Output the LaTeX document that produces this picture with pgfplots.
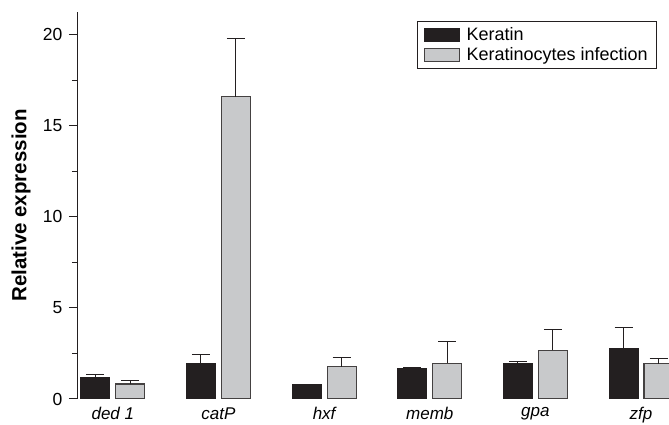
\documentclass[border=0pt]{standalone}
\usepackage{pgfplots}
\pgfplotsset{compat=1.18}
\usepackage{pgfplotstable}
\usepackage{fontspec}
\setmainfont{Liberation Sans}
\definecolor{kblack}{HTML}{231F20}
\definecolor{kgrey}{HTML}{C8C9CB}
\pgfplotstableread{
x  y     e
0  1.17  0.18
1  1.95  0.50
2  0.77  0.02
3  1.70  0.03
4  1.95  0.10
5  2.80  1.15
}\keratin
\pgfplotstableread{
x  y     e
0  0.82  0.18
1  16.60 3.20
2  1.77  0.53
3  1.97  1.21
4  2.68  1.12
5  1.95  0.25
}\infection
\begin{document}
\begin{tikzpicture}
\begin{axis}[
  scale only axis,
  width=591pt, height=387pt,
  xmin=-0.33, xmax=5.265,
  ymin=0, ymax=21.26,
  axis y line*=left, axis x line*=bottom,
  x axis line style={draw=none},
  y axis line style={line width=1pt, color=kblack},
  ybar=6pt, bar width=29pt,
  xtick={0,1,2,3,4,5},
  xticklabels={ded 1, catP, hxf, memb, gpa, zfp},
  x tick style={draw=none},
  xticklabel style={font=\fontsize{17}{17}\selectfont\itshape, yshift=4pt},
  ytick={0,5,10,15,20},
  minor ytick={2.5,7.5,12.5,17.5},
  tick align=outside,
  major tick length=9pt, minor tick length=6pt,
  y tick style={line width=1pt, color=kblack},
  yticklabel style={font=\fontsize{17.5}{17.5}\selectfont, xshift=-3pt},
  /pgf/number format/assume math mode=true,
  every axis y label/.style={at={([xshift=-57pt]rel axis cs:0,0.5)}, rotate=90, anchor=center},
  ylabel={\fontsize{20.5}{20.5}\selectfont\bfseries Relative expression},
  legend style={at={(0.98,0.977)}, anchor=north east, draw=kblack, line width=1pt,
    font=\fontsize{18}{21}\selectfont, inner xsep=7pt, inner ysep=4pt, row sep=2pt},
  legend cell align=left,
  legend image code/.code={\draw[#1, line width=1pt] (0pt,-6.5pt) rectangle (35pt,6.5pt); \path[draw=none, fill=none] (35pt,0pt) -- (40pt,0pt);},
  error bars/y dir=plus, error bars/y explicit,
  error bars/error bar style={line width=1pt, color=kblack},
  error bars/error mark options={rotate=90, mark size=9pt, line width=1pt, color=kblack},
]
\addplot[fill=kblack, draw=kblack, line width=1pt] table[x=x, y=y, y error=e] {\keratin};
\addplot[fill=kgrey, draw=kblack!85, line width=1.2pt] table[x=x, y=y, y error=e] {\infection};
\legend{Keratin, Keratinocytes infection}
\coordinate (O) at (rel axis cs:0,0);
\coordinate (T) at (rel axis cs:1,1);
\end{axis}
\pgfresetboundingbox
\path[use as bounding box] ([xshift=-78pt,yshift=-26pt]O) rectangle ([yshift=12pt]T);
\end{tikzpicture}
\end{document}
